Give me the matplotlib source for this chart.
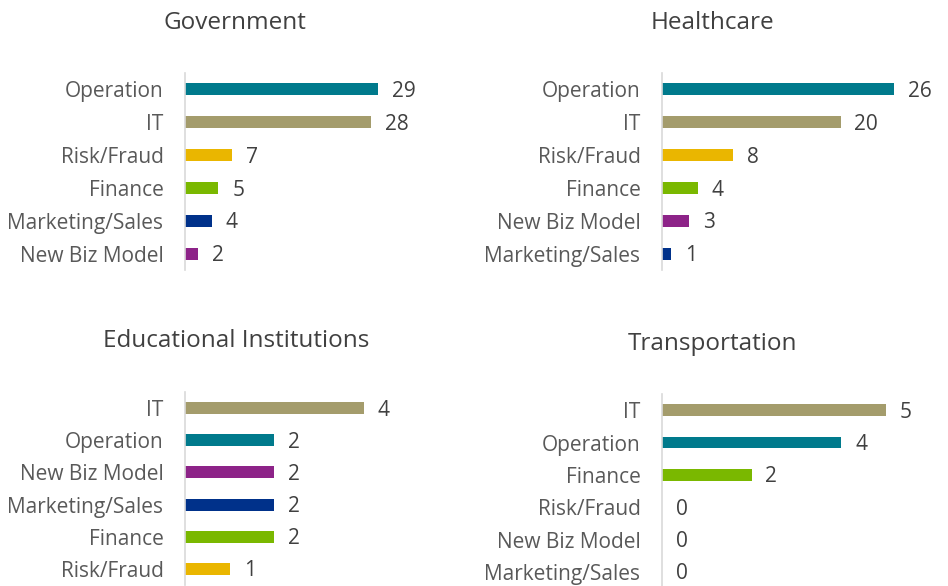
import matplotlib
matplotlib.use("Agg")
import matplotlib.pyplot as plt

plt.rcParams["font.family"] = ["Open Sans", "DejaVu Sans"]

# Data per panel (top-to-bottom order as shown)
gov_cats = ["Operation", "IT", "Risk/Fraud", "Finance", "Marketing/Sales", "New Biz Model"]
gov_vals = [29, 28, 7, 5, 4, 2]

hc_cats = ["Operation", "IT", "Risk/Fraud", "Finance", "New Biz Model", "Marketing/Sales"]
hc_vals = [26, 20, 8, 4, 3, 1]

edu_cats = ["IT", "Operation", "New Biz Model", "Marketing/Sales", "Finance", "Risk/Fraud"]
edu_vals = [4, 2, 2, 2, 2, 1]

tr_cats = ["IT", "Operation", "Finance", "Risk/Fraud", "New Biz Model", "Marketing/Sales"]
tr_vals = [5, 4, 2, 0, 0, 0]

COLORS = {
    "Operation": "#007A8C",
    "IT": "#A49C6C",
    "Risk/Fraud": "#EAB600",
    "Finance": "#7AB800",
    "Marketing/Sales": "#00318A",
    "New Biz Model": "#8D2388",
}

W, H = 948, 586
fig = plt.figure(figsize=(W / 100, H / 100), dpi=100)


def panel(title, cats, vals, left, top, bottom, px_per_unit, xmax, title_xy):
    width = xmax * px_per_unit
    ax = fig.add_axes([left / W, 1 - bottom / H, width / W, (bottom - top) / H])
    y = list(range(len(cats)))
    ax.barh(y, vals, height=0.37, color=[COLORS[c] for c in cats])
    ax.set_ylim(len(cats) - 0.5, -0.5)
    ax.set_xlim(0, xmax)
    ax.set_yticks(y)
    ax.set_yticklabels(cats, fontsize=15, color="#595959")
    ax.set_xticks([])
    ax.tick_params(axis="y", length=0, pad=15.5)
    for s in ["top", "right", "bottom"]:
        ax.spines[s].set_visible(False)
    ax.spines["left"].set_color("#D9D9D9")
    ax.spines["left"].set_linewidth(1.2)
    for yi, v in zip(y, vals):
        ax.annotate(str(v), (v, yi), xytext=(10, -1.5), textcoords="offset points",
                    va="center", ha="left", fontsize=15, color="#404040",
                    annotation_clip=False)
    fig.text(title_xy[0] / W, 1 - title_xy[1] / H, title, ha="center", va="center",
             fontsize=17.5, color="#404040")
    return ax


panel("Government", gov_cats, gov_vals, 185, 73, 270, 6.66, 30, (235, 23))
panel("Healthcare", hc_cats, hc_vals, 662, 73, 270, 8.93, 28, (712, 23))
panel("Educational Institutions", edu_cats, edu_vals, 185, 392, 585, 44.7, 4.5, (236, 341))
panel("Transportation", tr_cats, tr_vals, 662, 394, 588, 44.8, 5.5, (713, 344))

fig.savefig("out.png", dpi=100)
